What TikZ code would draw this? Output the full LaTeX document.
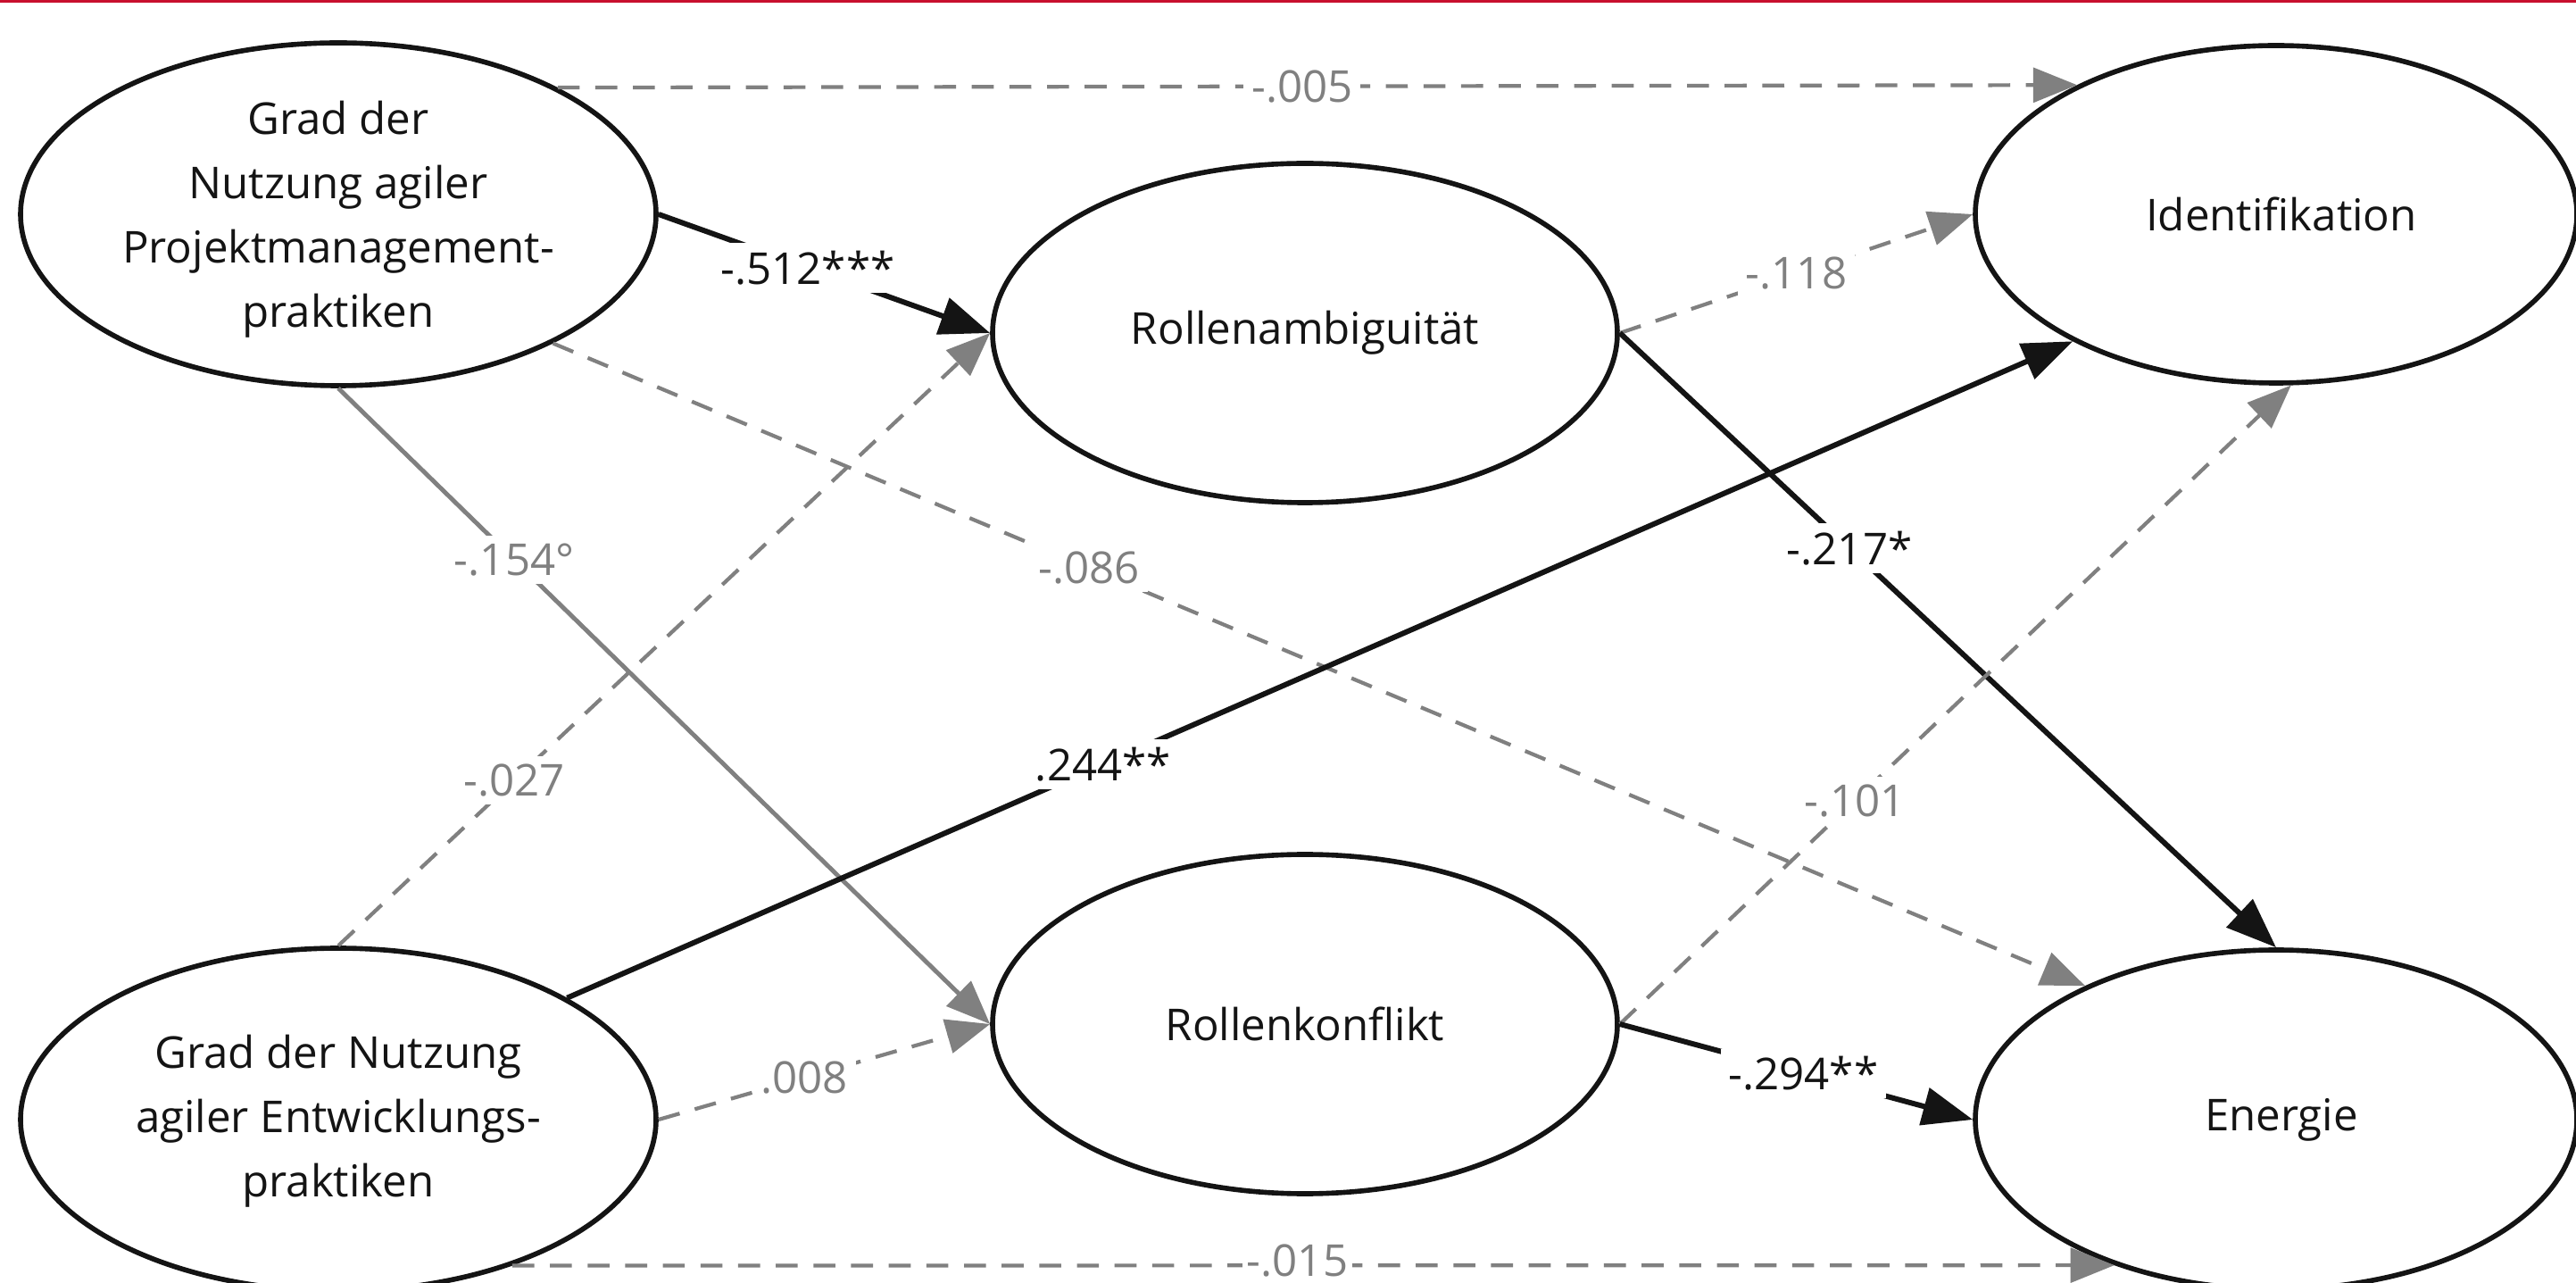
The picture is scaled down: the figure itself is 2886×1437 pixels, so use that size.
\documentclass[tikz,border=0pt]{standalone}
\usepackage{fontspec}
\setmainfont{Open Sans}
\usetikzlibrary{arrows.meta,shapes.geometric}
\definecolor{lgrey}{RGB}{128,128,128}
\definecolor{topred}{RGB}{200,16,46}
\definecolor{ink}{RGB}{20,20,20}
\begin{document}
\begin{tikzpicture}[x=0.1mm,y=-0.1mm,
  ell/.style={draw=ink, line width=1.6pt, ellipse, inner sep=0pt},
  txt/.style={align=center, text=ink, font=\fontsize{14}{20.5}\selectfont},
  lab/.style={fill=white, inner sep=2.5pt, font=\fontsize{14}{16}\selectfont},
  glab/.style={lab, text=lgrey},
  blab/.style={lab, text=ink},
  blk/.style={draw=ink, line width=1.7pt, -{Triangle[length=16pt,width=12pt]}},
  gry/.style={draw=lgrey, line width=1.4pt, -{Triangle[length=14pt,width=11pt]}},
  gdash/.style={gry, line width=1.2pt, dash pattern=on 7pt off 5pt}
]
\useasboundingbox (0,0) rectangle (2886,1437);
\clip (0,0) rectangle (2886,1437);
\fill[topred] (0,0) rectangle (2886,3);

% ellipses
\node[ell, minimum width=71.2mm, minimum height=38.4mm] (A) at (379,240) {};
\node[ell, minimum width=71.2mm, minimum height=38.4mm] (B) at (379,1254) {};
\node[ell, minimum width=70mm, minimum height=38mm] (RA) at (1462,373) {};
\node[ell, minimum width=70mm, minimum height=38mm] (RK) at (1462,1147) {};
\node[ell, minimum width=67.4mm, minimum height=37.8mm] (I) at (2550,240) {};
\node[ell, minimum width=67.4mm, minimum height=38mm] (E) at (2550,1254) {};

% texts
\node[txt] (At) at (379,246) {Grad der\\Nutzung agiler\\Projektmanagement-\\praktiken};
\node[txt] (Bt) at (379,1256) {Grad der Nutzung\\agiler Entwicklungs-\\praktiken};
\node[txt] (RAt) at (1462,373) {Rollenambiguität};
\node[txt] (RKt) at (1462,1147) {Rollenkonflikt};
\node[txt] (It) at (2556,240) {Identifikation};
\node[txt] (Et) at (2556,1254) {Energie};

% connectors
\draw[gdash] (A.30.65) -- node[glab, pos=0.49] (l1) {-.005} (I.147.45);
\draw[blk] (A.east) -- node[blab, pos=0.45] (l2) {-.512***} (RA.west);
\draw[gdash] (RA.east) -- node[glab, pos=0.5] (l3) {-.118} (I.west);
\draw[blk] (RA.east) -- node[blab, pos=0.35] (l4) {-.217*} (E.north);
\draw[gdash] (A.-31) -- node[glab, pos=0.35] (l5) {-.086} (E.145.2);
\draw[gry] (A.south) -- node[glab, pos=0.27] (l6) {-.154°} (RK.west);
\draw[gdash] (B.north) -- node[glab, pos=0.27] (l7) {-.027} (RA.west);
\draw[blk] (B.28.5) -- node[blab, pos=0.356] (l8) {.244**} (I.212);
\draw[gdash] (B.east) -- node[glab, pos=0.44] (l9) {.008} (RK.west);
\draw[gdash] (RK.east) -- node[glab, pos=0.35] (l10) {-.101} (I.-85);
\draw[blk] (RK.east) -- node[blab, pos=0.52] (l11) {-.294**} (E.west);
\draw[gdash] (B.-40.3) -- node[glab, pos=0.49, yshift=1.5pt, inner sep=1.5pt] (l12) {-.015} (E.222.6);
\end{tikzpicture}
\end{document}
